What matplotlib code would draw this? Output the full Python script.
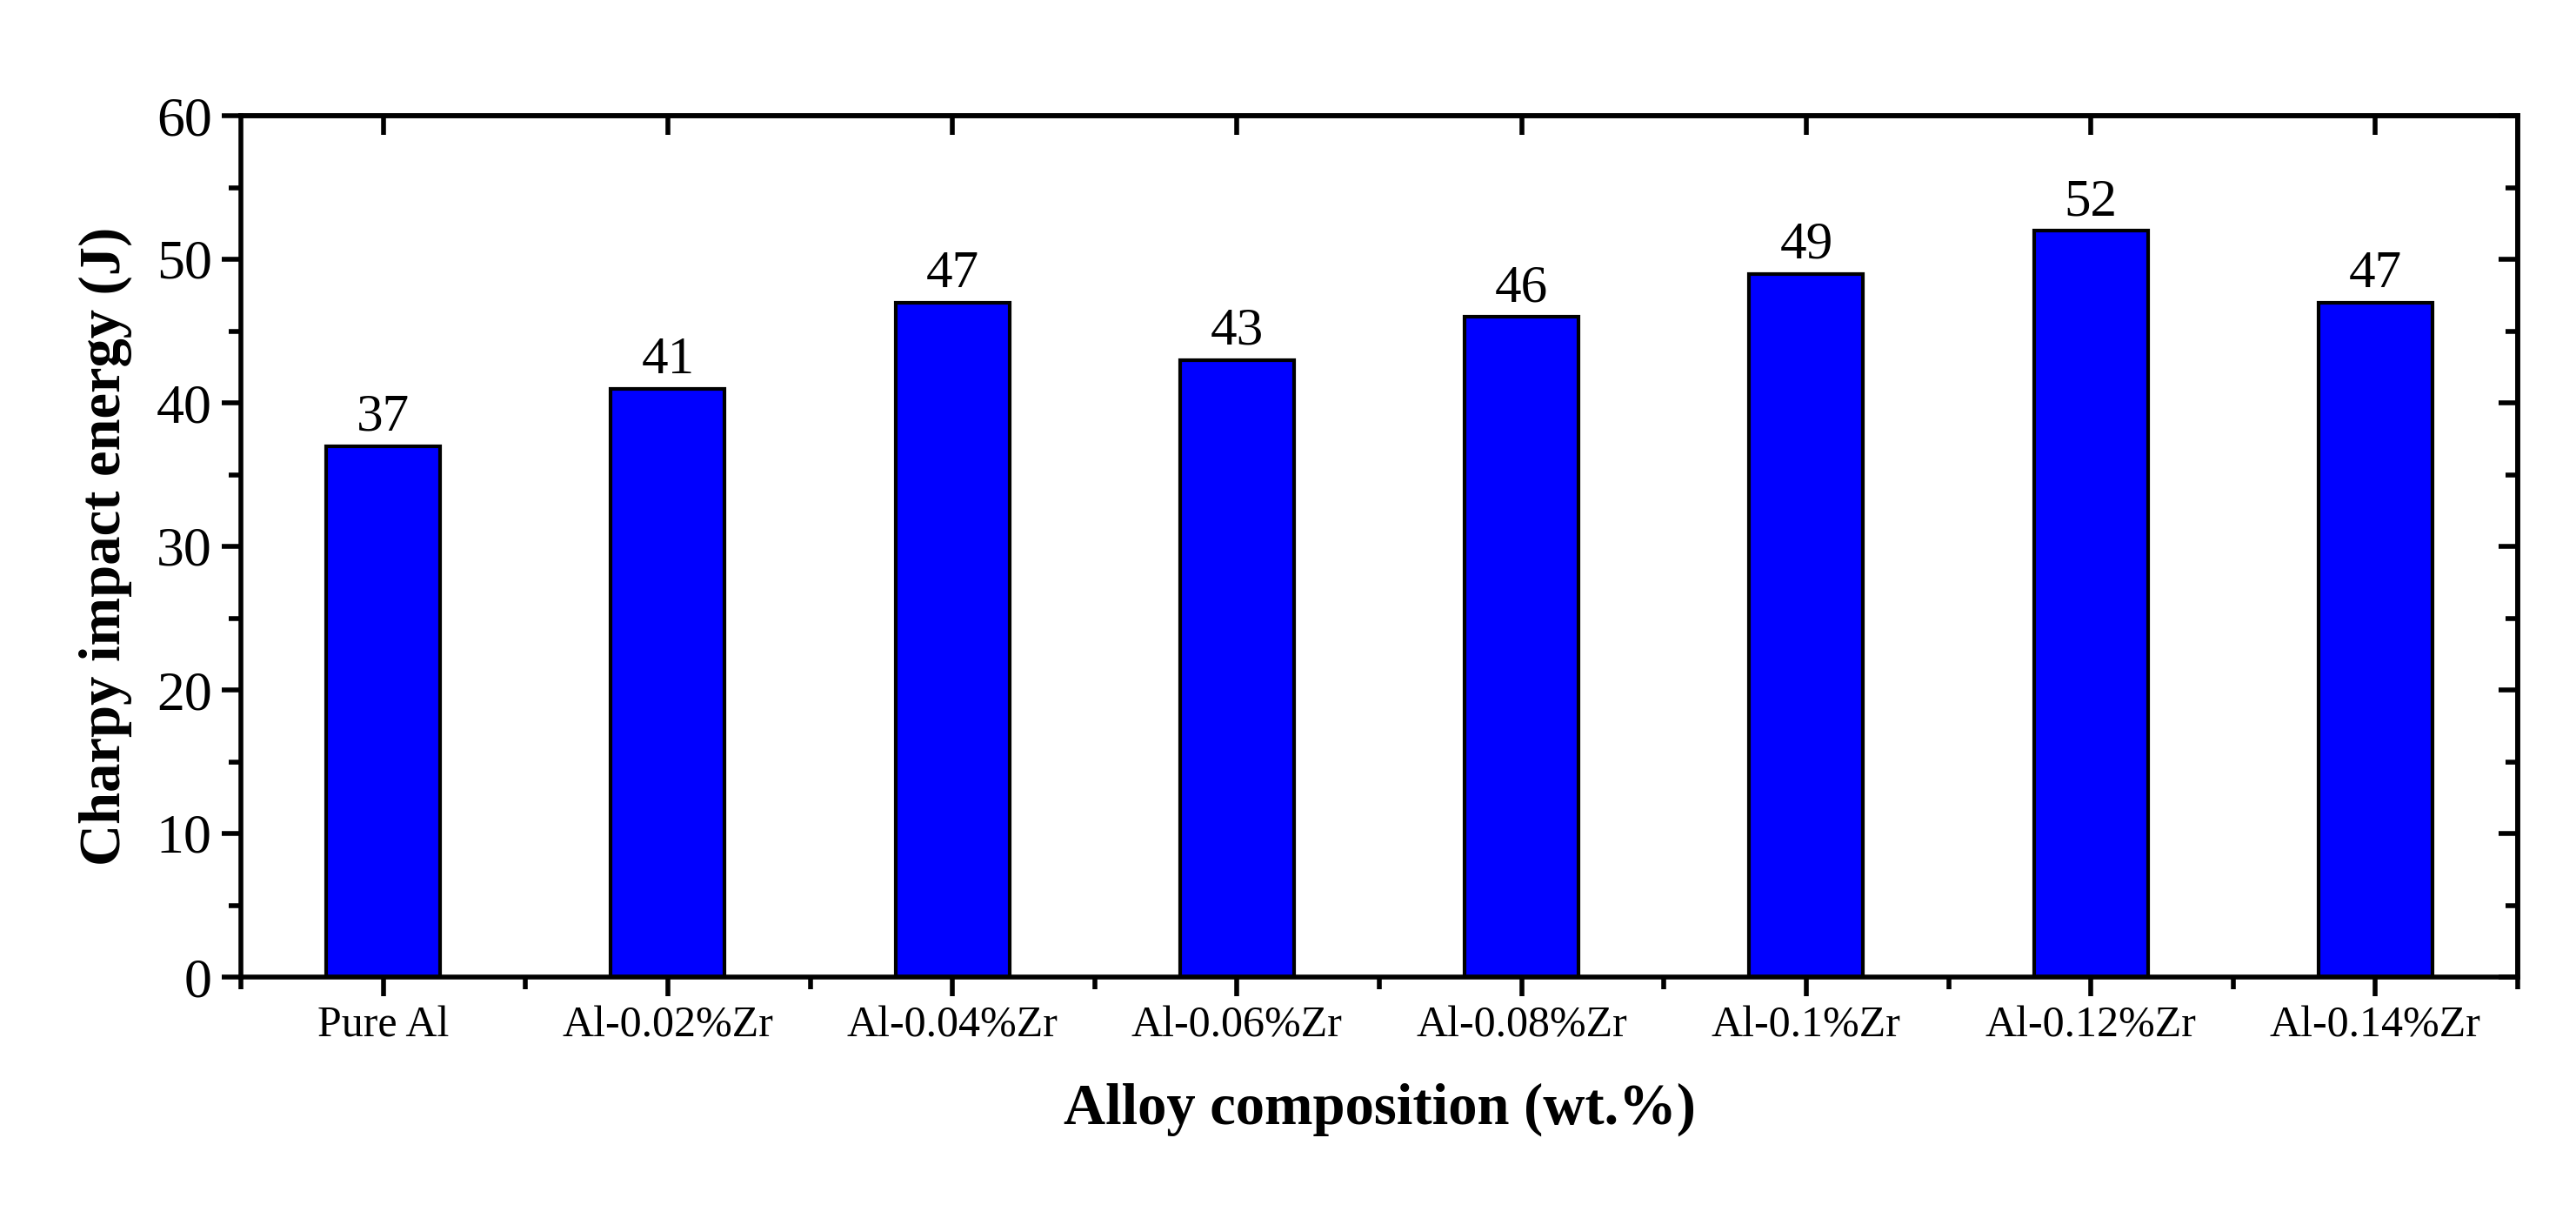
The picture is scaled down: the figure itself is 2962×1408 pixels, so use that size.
import matplotlib.pyplot as plt
from matplotlib.ticker import MultipleLocator, FixedLocator
import numpy as np

plt.rcParams['font.family'] = ['Liberation Serif', 'DejaVu Serif']

alloys = ["Pure Al", "Al-0.02%Zr", "Al-0.04%Zr", "Al-0.06%Zr",
          "Al-0.08%Zr", "Al-0.1%Zr", "Al-0.12%Zr", "Al-0.14%Zr"]
energy = [37, 41, 47, 43, 46, 49, 52, 47]

fig = plt.figure(figsize=(29.62, 14.08), dpi=100)
ax = fig.add_axes([277/2962, 1-1123/1408, (2895-277)/2962, (1123-133)/1408])

x = np.arange(len(alloys))
ax.bar(x, energy, width=0.4, color="#0000ff", edgecolor="black", linewidth=3, zorder=2)
for xi, v in zip(x, energy):
    ax.text(xi, v + 0.3, str(v), ha="center", va="bottom", fontsize=44)

ax.set_xlim(-0.5, 7.5)
ax.set_ylim(0, 60)
ax.set_xticks(x)
ax.set_xticklabels(alloys, fontsize=36)
ax.xaxis.set_minor_locator(FixedLocator(np.arange(-0.5, 8, 1)))
ax.yaxis.set_major_locator(MultipleLocator(10))
ax.yaxis.set_minor_locator(MultipleLocator(5))
ax.tick_params(axis="y", labelsize=46)

for s in ax.spines.values():
    s.set_linewidth(4)
ax.tick_params(which="major", length=16, width=4, direction="out", pad=8)
ax.tick_params(which="minor", length=10, width=4, direction="out")

sec_x = ax.secondary_xaxis("top")
sec_x.set_xticks(x)
sec_x.set_xticklabels([])
sec_x.tick_params(which="major", direction="in", length=16, width=4)
sec_x.spines["top"].set_linewidth(4)
sec_y = ax.secondary_yaxis("right")
sec_y.yaxis.set_major_locator(MultipleLocator(10))
sec_y.yaxis.set_minor_locator(MultipleLocator(5))
sec_y.set_yticklabels([])
sec_y.tick_params(which="major", direction="in", length=16, width=4)
sec_y.tick_params(which="minor", direction="in", length=10, width=4)
sec_y.spines["right"].set_linewidth(4)

ax.set_xlabel("Alloy composition (wt.%)", fontsize=48, fontweight="bold", labelpad=30)
ax.set_ylabel("Charpy impact energy (J)", fontsize=48, fontweight="bold", labelpad=20)

fig.savefig("out.png", dpi=100)
